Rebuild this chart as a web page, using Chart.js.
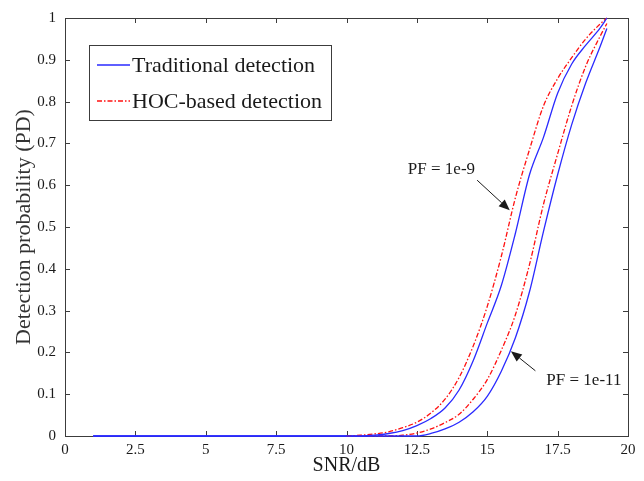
<!DOCTYPE html>
<html>
<head>
<meta charset="utf-8">
<script src="https://cdn.jsdelivr.net/npm/chart.js@4"></script>
<style>
  html, body { margin: 0; padding: 0; background: #fff; }
  #wrap { width: 644px; height: 481px; }
</style>
</head>
<body>
<div id="wrap"><canvas id="chart" width="644" height="481"></canvas></div>
<script>
"use strict";

// ── Data ──
const snr = [1, 10, 10.5, 11, 11.5, 12, 12.5, 13, 13.5, 14, 14.5, 15, 15.5, 16, 16.5, 17, 17.5, 18, 18.5, 19, 19.25];

// PF = 1e-9
const tradPF9  = [0, 0, 0, 0.002, 0.006, 0.013, 0.025, 0.042, 0.067, 0.11, 0.18, 0.27, 0.36, 0.485, 0.625, 0.715, 0.82, 0.89, 0.935, 0.975, 1.0];
const hocPF9   = [null, 0, 0.002, 0.005, 0.01, 0.02, 0.033, 0.055, 0.088, 0.14, 0.215, 0.31, 0.43, 0.57, 0.685, 0.79, 0.855, 0.905, 0.95, 0.985, 1.0];

// PF = 1e-11
const tradPF11 = [0, 0, 0, 0, 0, 0, 0, 0.006, 0.017, 0.033, 0.058, 0.095, 0.155, 0.235, 0.345, 0.49, 0.625, 0.745, 0.845, 0.93, 0.975];
const hocPF11  = [null, 0, 0, 0, 0, 0.002, 0.007, 0.017, 0.032, 0.052, 0.088, 0.135, 0.205, 0.29, 0.41, 0.555, 0.675, 0.79, 0.885, 0.955, 0.987];

const seriesLabels = ["Traditional detection", "HOC-based detection"];
const xTickStep = 2.5;
const yTickStep = 0.1;

// ── Annotations (data units) ──
const notes = [
  { text: "PF = 1e-9",  at: [12.18, 0.638], tail: [14.64, 0.612], tip: [15.8, 0.54] },
  { text: "PF = 1e-11", at: [17.1, 0.132],  tail: [16.71, 0.156], tip: [15.84, 0.203] },
];

// ── Styles ──
const SERIF = "'Liberation Serif', 'Times New Roman', serif";
const BLUE  = "#2a2aff";
const RED   = "#ff1010";
const INK   = "#1a1a1a";
const FRAME = "#3c3c3c";

const toPoints = ys => snr.map((x, i) => ({ x, y: ys[i] })).filter(p => p.y != null);

function lineSet(label, ys, color, dash) {
  return {
    label,
    data: toPoints(ys),
    borderColor: color,
    borderWidth: 1.3,
    borderDash: dash,
    pointRadius: 0,
    fill: false,
    cubicInterpolationMode: "monotone",
    clip: false,
  };
}

const dashDot = [5, 2, 1.5, 2];

// ── Frame + inward ticks (under the curves), legend + annotations (over) ──
const decorPlugin = {
  id: "decor",
  beforeDatasetsDraw(chart) {
    const { ctx, chartArea: a, scales: { x, y } } = chart;
    ctx.save();
    ctx.strokeStyle = FRAME;
    ctx.lineWidth = 1;
    ctx.strokeRect(a.left + 0.5, a.top + 0.5, a.right - a.left, a.bottom - a.top);

    const tl = 5;
    ctx.beginPath();
    x.ticks.forEach(t => {
      const px = Math.round(x.getPixelForValue(t.value)) + 0.5;
      ctx.moveTo(px, a.bottom); ctx.lineTo(px, a.bottom - tl);
      ctx.moveTo(px, a.top);    ctx.lineTo(px, a.top + tl);
    });
    y.ticks.forEach(t => {
      const py = Math.round(y.getPixelForValue(t.value)) + 0.5;
      ctx.moveTo(a.left, py);  ctx.lineTo(a.left + tl, py);
      ctx.moveTo(a.right, py); ctx.lineTo(a.right - tl, py);
    });
    ctx.stroke();
    ctx.restore();
  },
  afterDatasetsDraw(chart) {
    const { ctx, chartArea: a, scales: { x, y } } = chart;
    ctx.save();

    // legend box
    const bx = a.left + 24, by = a.top + 27, bw = 242, bh = 75;
    ctx.fillStyle = "#fff";
    ctx.fillRect(bx, by, bw, bh);
    ctx.strokeStyle = FRAME;
    ctx.lineWidth = 1;
    ctx.strokeRect(bx + 0.5, by + 0.5, bw, bh);
    const rows = [
      { label: chart.data.datasets[0].label, color: BLUE, dash: [] },
      { label: chart.data.datasets[1].label, color: RED,  dash: dashDot },
    ];
    ctx.font = `22px ${SERIF}`;
    ctx.textBaseline = "middle";
    ctx.textAlign = "left";
    rows.forEach((r, i) => {
      const ry = by + 20 + i * 36;
      ctx.strokeStyle = r.color;
      ctx.lineWidth = 1.3;
      ctx.setLineDash(r.dash);
      ctx.beginPath();
      ctx.moveTo(bx + 8, ry); ctx.lineTo(bx + 41, ry);
      ctx.stroke();
      ctx.setLineDash([]);
      ctx.fillStyle = INK;
      ctx.fillText(r.label, bx + 43, ry + 1);
    });

    // PF annotations with arrows
    ctx.font = `17px ${SERIF}`;
    notes.forEach(n => {
      ctx.fillStyle = INK;
      ctx.fillText(n.text, x.getPixelForValue(n.at[0]), y.getPixelForValue(n.at[1]));
      const x0 = x.getPixelForValue(n.tail[0]), y0 = y.getPixelForValue(n.tail[1]);
      const x1 = x.getPixelForValue(n.tip[0]),  y1 = y.getPixelForValue(n.tip[1]);
      const ang = Math.atan2(y1 - y0, x1 - x0);
      const hl = 11, hw = 4.5;
      ctx.strokeStyle = INK;
      ctx.lineWidth = 1;
      ctx.beginPath();
      ctx.moveTo(x0, y0);
      ctx.lineTo(x1 - hl * Math.cos(ang), y1 - hl * Math.sin(ang));
      ctx.stroke();
      ctx.beginPath();
      ctx.moveTo(x1, y1);
      ctx.lineTo(x1 - hl * Math.cos(ang) + hw * Math.sin(ang), y1 - hl * Math.sin(ang) - hw * Math.cos(ang));
      ctx.lineTo(x1 - hl * Math.cos(ang) - hw * Math.sin(ang), y1 - hl * Math.sin(ang) + hw * Math.cos(ang));
      ctx.closePath();
      ctx.fill();
    });

    ctx.restore();
  },
};

// ── Chart ──
new Chart(document.getElementById("chart"), {
  type: "line",
  data: {
    datasets: [
      lineSet(seriesLabels[0], tradPF9,  BLUE, []),
      lineSet(seriesLabels[1], hocPF9,   RED,  dashDot),
      lineSet(seriesLabels[0], tradPF11, BLUE, []),
      lineSet(seriesLabels[1], hocPF11,  RED,  dashDot),
    ],
  },
  options: {
    responsive: false,
    animation: false,
    events: [],
    layout: { padding: { top: 15, right: 16, left: 0, bottom: 0 } },
    plugins: { legend: { display: false }, tooltip: { enabled: false } },
    scales: {
      x: {
        type: "linear",
        min: 0,
        max: 20,
        grid: { display: false, drawTicks: false },
        border: { display: false },
        ticks: { stepSize: xTickStep, color: INK, padding: 5, font: { family: SERIF, size: 15 } },
        title: { display: true, text: "SNR/dB", color: INK, padding: { top: 0, bottom: 3 }, font: { family: SERIF, size: 20 } },
        afterFit: s => { s.height = 45; },
      },
      y: {
        min: 0,
        max: 1,
        grid: { display: false, drawTicks: false },
        border: { display: false },
        ticks: {
          stepSize: yTickStep, color: INK, padding: 9, font: { family: SERIF, size: 15 },
          callback: v => String(+v.toFixed(1)),
        },
        title: { display: true, text: "Detection probability (PD)", color: "#333", padding: { top: 11, bottom: 0 }, font: { family: SERIF, size: 22 } },
        afterFit: s => { s.width = 65; },
      },
    },
  },
  plugins: [decorPlugin],
});
</script>
</body>
</html>
